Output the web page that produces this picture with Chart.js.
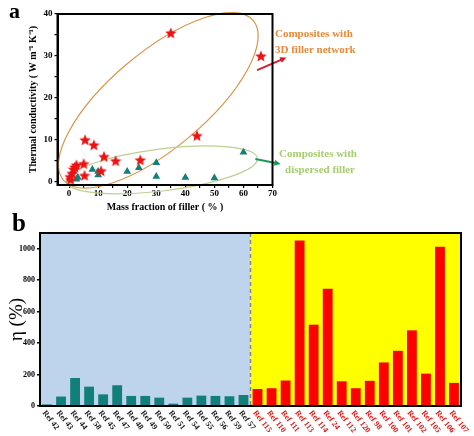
<!DOCTYPE html>
<html>
<head>
<meta charset="utf-8">
<script src="https://cdn.jsdelivr.net/npm/chart.js@4/dist/chart.umd.min.js"></script>
<style>
  body { margin: 0; background: #fff; width: 474px; height: 436px; position: relative; overflow: hidden; }
  canvas { position: absolute; left: 0; }
  #chartA { top: 0; }
  #chartB { top: 210px; }
  .panel { position: absolute; font-family: "Liberation Serif", serif; font-weight: bold; line-height: 1; }
</style>
</head>
<body>
<canvas id="chartA" width="474" height="215"></canvas>
<canvas id="chartB" width="474" height="226"></canvas>
<div class="panel" style="left:9px;top:0px;font-size:22px">a</div>
<div class="panel" style="left:12px;top:210px;font-size:25px">b</div>
<script>
// panel a: thermal conductivity vs filler fraction
const networkX = [35, 66, 44, 5.5, 8.5, 12, 16, 24.5, 5, 2.5, 1.5, 1, 0.3, 0.5, 11, 5.3, 2];
const networkY = [35.5, 30, 11, 10, 8.8, 6, 5, 5.2, 4.3, 4, 3, 2, 1.2, 0.5, 2.6, 1.5, 3.5];
const dispersedX = [60, 30, 24, 20, 8, 10, 10, 30, 40, 50, 2.5, 3];
const dispersedY = [7, 4.5, 3.3, 2.4, 2.9, 2.4, 1.6, 1.2, 1.0, 0.9, 0.6, 1.0];
const xTicksA = [0, 5, 10, 15, 20, 25, 30, 35, 40, 45, 50, 55, 60, 65, 70];
const yTicksA = [0, 5, 10, 15, 20, 25, 30, 35, 40];

// panel b: enhancement efficiency
const refsDispersed = ['Ref 42', 'Ref 43', 'Ref 44', 'Ref 58', 'Ref 45', 'Ref 47', 'Ref 48', 'Ref 49',
  'Ref 50', 'Ref 51', 'Ref 54', 'Ref 55', 'Ref 56', 'Ref 59', 'Ref 57'];
const etaDispersed = [10, 60, 178, 123, 74, 132, 64, 64, 53, 15, 53, 66, 64, 62, 70];
const refsNetwork = ['Ref 115', 'Ref 110', 'Ref 111', 'Ref 113', 'Ref 114', 'Ref 24', 'Ref 112', 'Ref 120',
  'Ref 98', 'Ref 100', 'Ref 101', 'Ref 102', 'Ref 105', 'Ref 106', 'Ref 107'];
const etaNetwork = [108, 113, 162, 1053, 517, 745, 157, 113, 160, 277, 351, 481, 206, 1013, 147];
const yTicksB = [0, 200, 400, 600, 800, 1000];

const SERIF = '"Liberation Serif", "Times New Roman", serif';
const TEAL = '#137f7b';
const RED = '#ee1111';

function starImage(size, color) {
    const c = document.createElement('canvas');
    c.width = c.height = size;
    const g = c.getContext('2d');
    const cx = size / 2, cy = size / 2 + 0.6, R = size / 2, r = R * 0.45;
    g.fillStyle = color;
    g.beginPath();
    for (let i = 0; i < 10; i++) {
        const a = -Math.PI / 2 + i * Math.PI / 5;
        const rr = i % 2 ? r : R;
        g.lineTo(cx + rr * Math.cos(a), cy + rr * Math.sin(a));
    }
    g.closePath();
    g.fill();
    return c;
}

function arrow(ctx, x1, y1, x2, y2, color) {
    const a = Math.atan2(y2 - y1, x2 - x1);
    ctx.strokeStyle = color;
    ctx.fillStyle = color;
    ctx.lineWidth = 2;
    ctx.beginPath();
    ctx.moveTo(x1, y1);
    ctx.lineTo(x2 - 4 * Math.cos(a), y2 - 4 * Math.sin(a));
    ctx.stroke();
    ctx.beginPath();
    ctx.moveTo(x2, y2);
    ctx.lineTo(x2 - 7 * Math.cos(a - 0.45), y2 - 7 * Math.sin(a - 0.45));
    ctx.lineTo(x2 - 7 * Math.cos(a + 0.45), y2 - 7 * Math.sin(a + 0.45));
    ctx.closePath();
    ctx.fill();
}

const frame = {
    id: 'frame',
    afterDraw(chart) {
        const {ctx, chartArea: a} = chart;
        ctx.save();
        ctx.strokeStyle = '#000';
        ctx.lineWidth = 2;
        ctx.strokeRect(a.left, a.top, a.right - a.left, a.bottom - a.top);
        ctx.restore();
    }
};

const groupsA = {
    id: 'groupsA',
    beforeDatasetsDraw(chart) {
        const {ctx, scales: {x, y}} = chart;
        ctx.save();
        ctx.lineWidth = 1.2;
        // 3D network ellipse
        ctx.strokeStyle = '#d8954a';
        ctx.beginPath();
        ctx.ellipse(x.getPixelForValue(30.7), y.getPixelForValue(19.4), 124, 48, -40 * Math.PI / 180, 0, 2 * Math.PI);
        ctx.stroke();
        // dispersed ellipse
        ctx.strokeStyle = '#bcd093';
        ctx.beginPath();
        ctx.ellipse(x.getPixelForValue(32), y.getPixelForValue(2.8), 96, 21, -7 * Math.PI / 180, 0, 2 * Math.PI);
        ctx.stroke();
        ctx.restore();
    },
    afterDraw(chart) {
        const {ctx, scales: {x, y}} = chart;
        ctx.save();
        arrow(ctx, x.getPixelForValue(64.7), y.getPixelForValue(26.6), x.getPixelForValue(74.8), y.getPixelForValue(29.6), '#d81c2a');
        arrow(ctx, x.getPixelForValue(64.1), y.getPixelForValue(5.4), x.getPixelForValue(72.8), y.getPixelForValue(4.2), '#1a9a5a');
        ctx.font = 'bold 11px ' + SERIF;
        ctx.textBaseline = 'middle';
        ctx.textAlign = 'left';
        ctx.fillStyle = '#e48a3a';
        ctx.fillText('Composites with', 275, 34);
        ctx.fillText('3D filler network', 275, 50);
        ctx.fillStyle = '#a8cc72';
        ctx.textAlign = 'center';
        ctx.fillText('Composites with', 318, 154);
        ctx.fillText('dispersed filler', 320, 170);
        ctx.restore();
    }
};

const tickFontA = {family: SERIF, size: 9, weight: 'bold'};

new Chart(document.getElementById('chartA'), {
    type: 'scatter',
    data: {
        datasets: [{
            data: networkX.map((v, i) => ({x: v, y: networkY[i]})),
            pointStyle: starImage(12, RED),
            pointRadius: 6
        }, {
            data: dispersedX.map((v, i) => ({x: v, y: dispersedY[i]})),
            pointStyle: 'triangle',
            pointRadius: 4.5,
            backgroundColor: TEAL,
            borderColor: TEAL,
            borderWidth: 0
        }]
    },
    options: {
        responsive: false,
        animation: false,
        layout: {padding: {top: 14, right: 201.5, left: 0, bottom: 0}},
        plugins: {legend: {display: false}, tooltip: {enabled: false}},
        scales: {
            x: {
                type: 'linear', min: -4, max: 70,
                afterBuildTicks: (s) => { s.ticks = xTicksA.map((v) => ({value: v})); },
                afterFit: (s) => { s.height = 30; },
                ticks: {callback: (v) => (v % 10 === 0 ? v : ''), font: tickFontA, color: '#000', padding: 0, maxRotation: 0, autoSkip: false},
                grid: {drawOnChartArea: false, tickLength: 3, color: '#000', lineWidth: 1.2},
                border: {color: '#000', width: 2},
                title: {display: true, text: 'Mass fraction of filler ( % )', color: '#000',
                    font: {family: SERIF, size: 10, weight: 'bold'}, padding: {top: 0, bottom: 2}}
            },
            y: {
                min: -0.8, max: 40,
                afterBuildTicks: (s) => { s.ticks = yTicksA.map((v) => ({value: v})); },
                afterFit: (s) => { s.width = 57.5; },
                ticks: {callback: (v) => (v % 10 === 0 ? v : ''), font: tickFontA, color: '#000', padding: 2, autoSkip: false},
                grid: {drawOnChartArea: false, tickLength: 3, color: '#000', lineWidth: 1.2},
                border: {color: '#000', width: 2},
                title: {display: true, text: 'Thermal conductivity ( W m⁻¹ K⁻¹)', color: '#000',
                    font: {family: SERIF, size: 10, weight: 'bold'}, padding: {top: 27, bottom: 0}}
            }
        }
    },
    plugins: [groupsA, frame]
});

// panel b
const refs = refsDispersed.concat(refsNetwork);
const eta = etaDispersed.concat(etaNetwork);

const regionsB = {
    id: 'regionsB',
    beforeDatasetsDraw(chart) {
        const {ctx, chartArea: a, scales: {x}} = chart;
        const split = (x.getPixelForTick(refsDispersed.length - 1) + x.getPixelForTick(refsDispersed.length)) / 2;
        ctx.save();
        ctx.fillStyle = '#bed4ec';
        ctx.fillRect(a.left, a.top, split - a.left, a.bottom - a.top);
        ctx.fillStyle = '#ffff00';
        ctx.fillRect(split, a.top, a.right - split, a.bottom - a.top);
        ctx.strokeStyle = '#7f8a8f';
        ctx.lineWidth = 1.5;
        ctx.setLineDash([4, 3]);
        ctx.beginPath();
        ctx.moveTo(split, a.top);
        ctx.lineTo(split, a.bottom);
        ctx.stroke();
        ctx.restore();
    },
    afterDraw(chart) {
        const {ctx, chartArea: a, scales: {x}} = chart;
        ctx.save();
        ctx.font = 'bold 8px ' + SERIF;
        ctx.textAlign = 'left';
        ctx.textBaseline = 'top';
        refs.forEach((label, i) => {
            ctx.save();
            ctx.translate(x.getPixelForTick(i), a.bottom + 3);
            ctx.rotate(52 * Math.PI / 180);
            ctx.fillStyle = i < refsDispersed.length ? '#111' : '#dd1111';
            ctx.fillText(label, 0, 0);
            ctx.restore();
        });
        ctx.restore();
    }
};

new Chart(document.getElementById('chartB'), {
    type: 'bar',
    data: {
        labels: refs,
        datasets: [{
            data: eta,
            backgroundColor: refs.map((_, i) => (i < refsDispersed.length ? TEAL : '#ff0000')),
            barPercentage: 0.7,
            categoryPercentage: 1
        }]
    },
    options: {
        responsive: false,
        animation: false,
        layout: {padding: {top: 23, right: 13, left: 0, bottom: 0}},
        plugins: {legend: {display: false}, tooltip: {enabled: false}},
        scales: {
            x: {
                ticks: {display: false},
                grid: {display: false},
                border: {color: '#000', width: 2},
                afterFit: (s) => { s.height = 30; }
            },
            y: {
                min: 0, max: 1100,
                afterBuildTicks: (s) => { s.ticks = yTicksB.map((v) => ({value: v})); },
                afterFit: (s) => { s.width = 40; },
                ticks: {callback: (v) => String(v), font: {family: SERIF, size: 8, weight: 'bold'}, color: '#000', padding: 2},
                grid: {drawOnChartArea: false, tickLength: 3, color: '#000', lineWidth: 1.5},
                border: {color: '#000', width: 2},
                title: {display: true, text: 'η (%)', color: '#000',
                    font: {family: SERIF, size: 19}, padding: {top: 6, bottom: 0}}
            }
        }
    },
    plugins: [regionsB, frame]
});
</script>
</body>
</html>
